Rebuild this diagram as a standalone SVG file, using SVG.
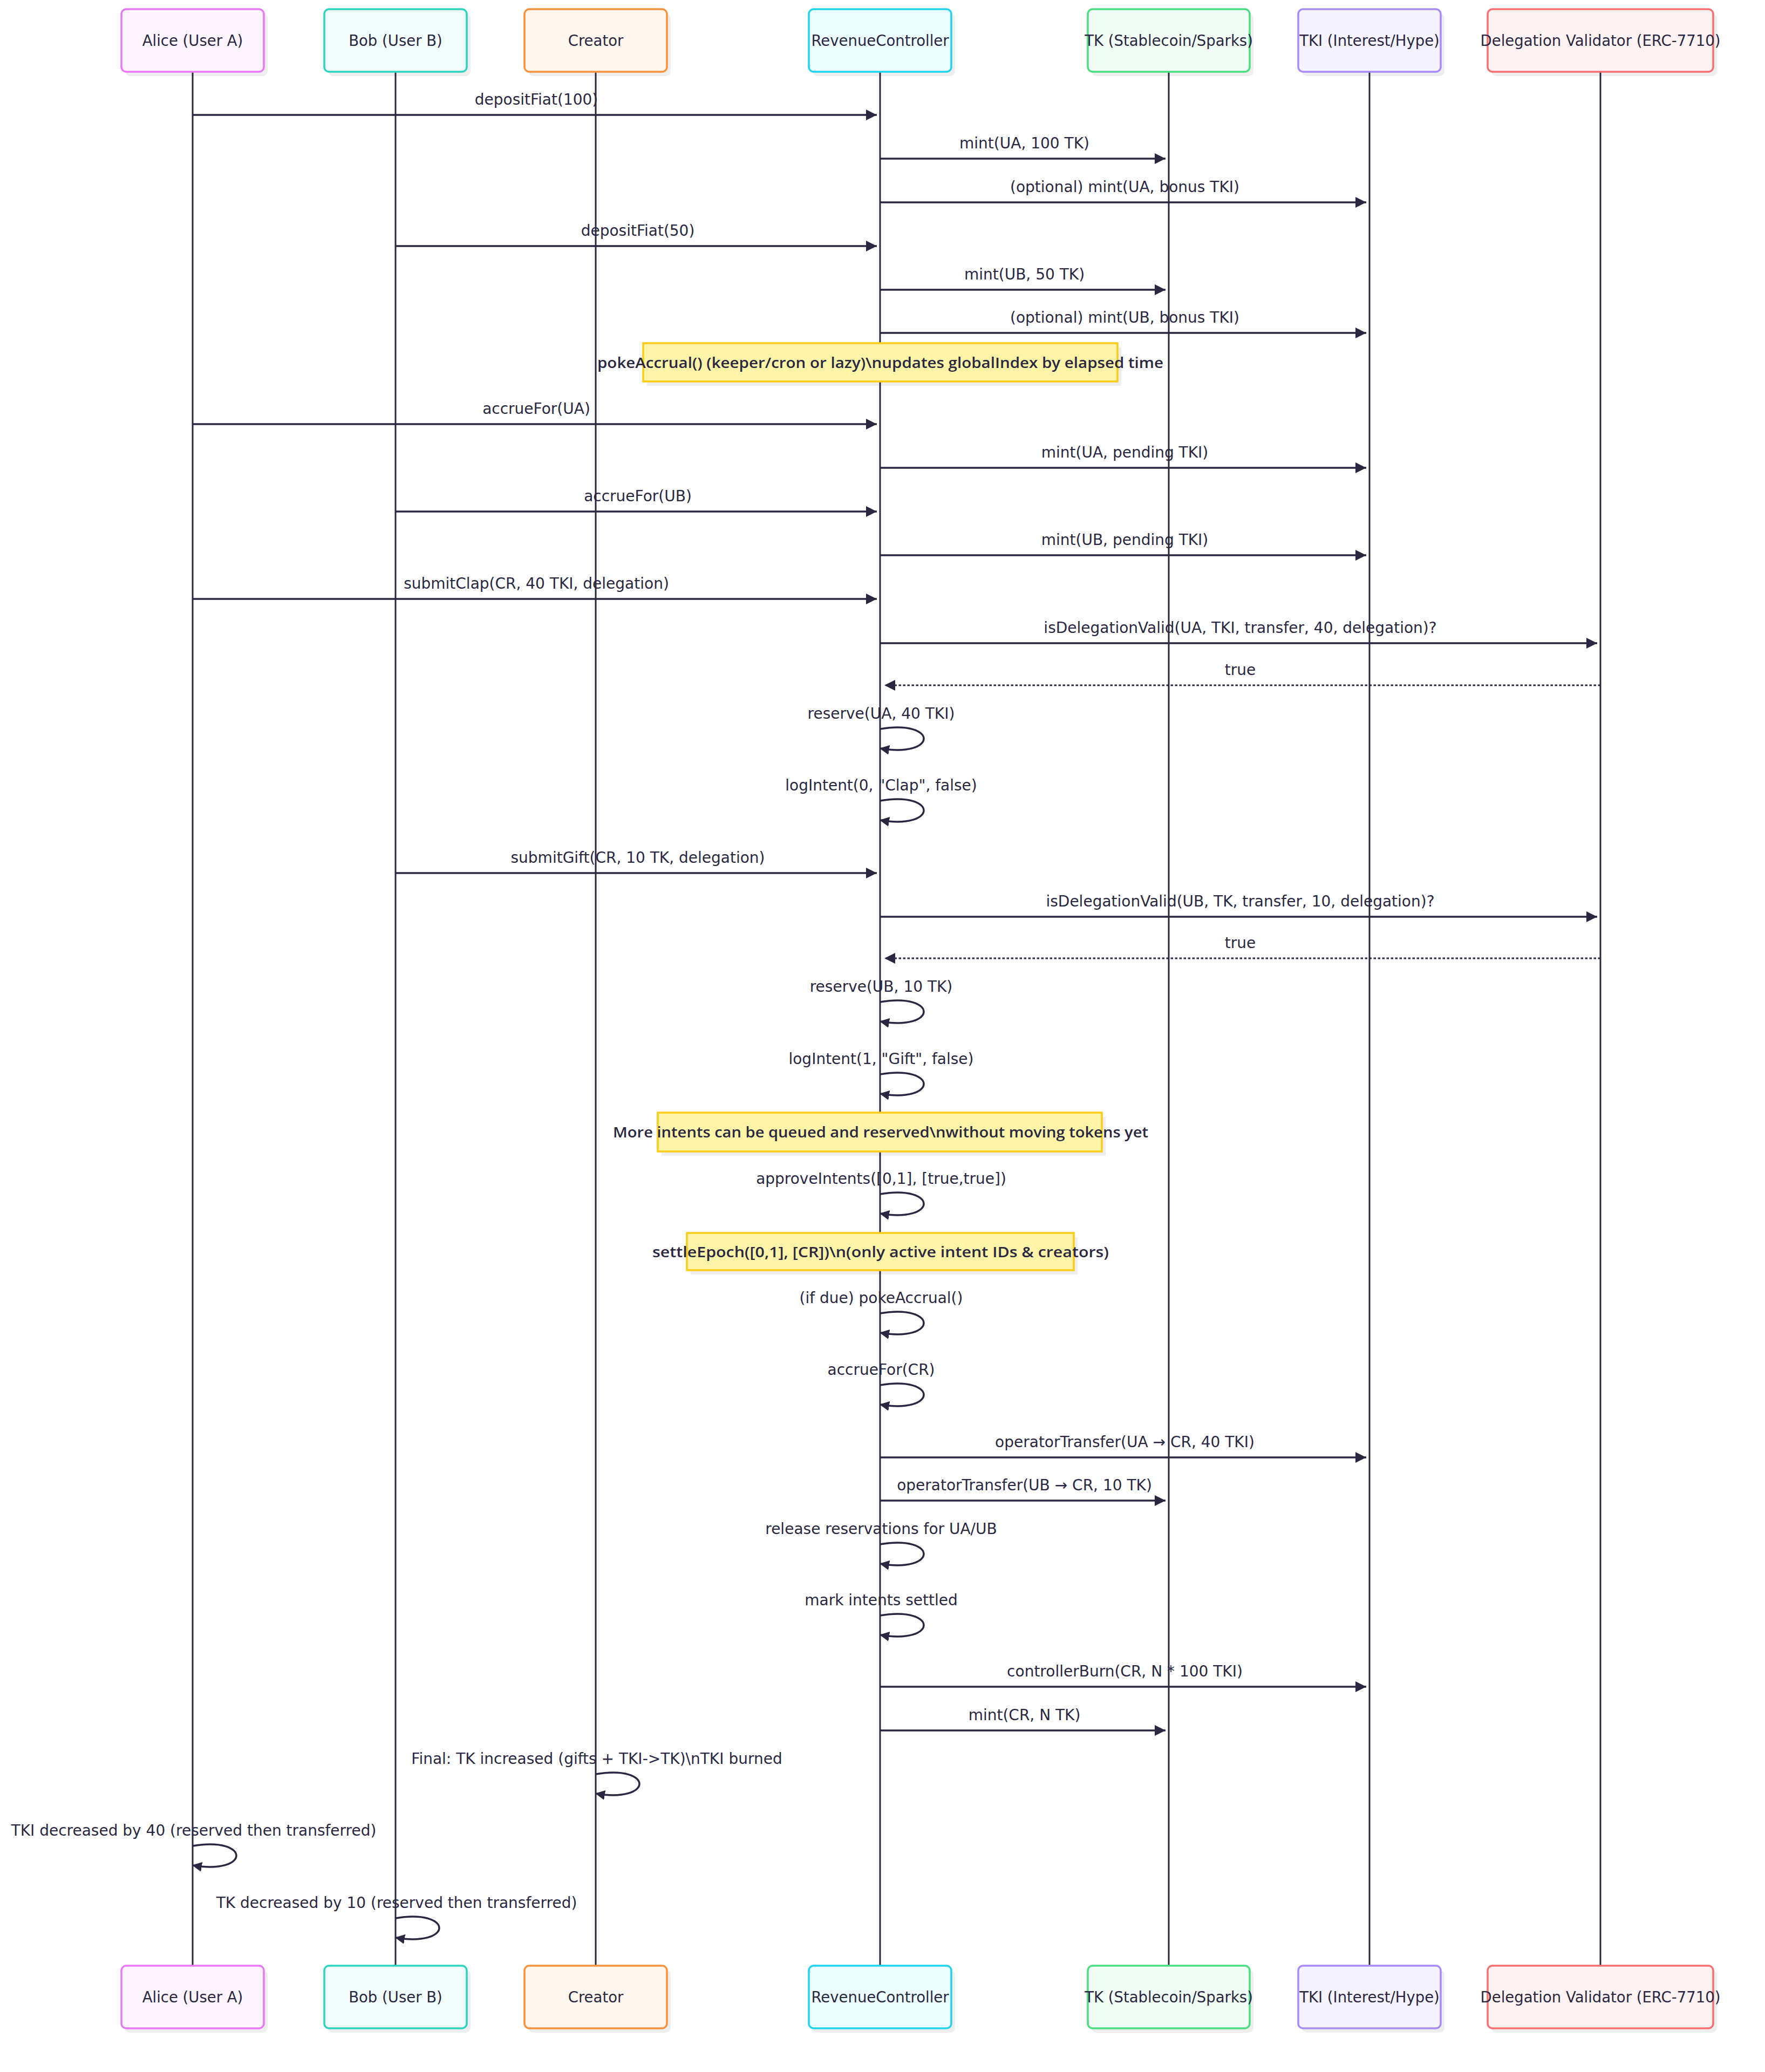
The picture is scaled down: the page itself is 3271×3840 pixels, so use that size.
<svg xmlns="http://www.w3.org/2000/svg" width="3271" height="3840" viewBox="0 0 3271 3840">
<style>
  .bg{fill:#ffffff}
  .shadow{fill:#000000;fill-opacity:0.065}
  .actor{stroke-width:3.5}
  .a-alice{fill:#fdf4ff;stroke:#e879f9}
  .a-bob{fill:#f0fdfa;stroke:#2dd4bf}
  .a-creator{fill:#fff7ed;stroke:#fb923c}
  .a-rc{fill:#ecfeff;stroke:#22d3ee}
  .a-tk{fill:#f0fdf4;stroke:#4ade80}
  .a-tki{fill:#f5f3ff;stroke:#a78bfa}
  .a-dv{fill:#fef2f2;stroke:#f87171}
  .atext{font-family:"DejaVu Sans","Liberation Sans",sans-serif;font-size:27.5px;fill:#2a2740;text-anchor:middle}
  .lifeline{stroke:#2a2740;stroke-width:3;fill:none}
  .msg{stroke:#2a2740;stroke-width:3.5;fill:none;marker-end:url(#arrow)}
  .dotted{stroke:#2a2740;stroke-width:3.2;fill:none;stroke-dasharray:4.5 3.5;marker-end:url(#arrow)}
  .self{stroke:#2a2740;stroke-width:3.5;fill:none;marker-end:url(#arrowS)}
  .mtext{font-family:"DejaVu Sans","Liberation Sans",sans-serif;font-size:28px;fill:#2a2740;text-anchor:middle}
  .note{fill:#fef4a8;stroke:#facc15;stroke-width:3.5}
  .ntext{font-family:"Open Sans","DejaVu Sans",sans-serif;font-weight:600;font-size:27px;fill:#2a2740;text-anchor:middle}
</style>
<defs>
  <marker id="arrow" markerUnits="userSpaceOnUse" markerWidth="20" markerHeight="20" viewBox="0 0 20 20" refX="20" refY="10" orient="auto">
    <path d="M0,0 L20,10 L0,20 z" fill="#2a2740"/>
  </marker>
  <marker id="arrowS" markerUnits="userSpaceOnUse" markerWidth="18" markerHeight="18" viewBox="0 0 18 18" refX="17" refY="9" orient="auto">
    <path d="M0,0 L18,9 L0,18 z" fill="#2a2740"/>
  </marker>
</defs>
<rect class="bg" x="0" y="0" width="3271" height="3840"/>

<g id="lifelines">
  <line class="lifeline" x1="357" y1="133" x2="357" y2="3643"/>
  <line class="lifeline" x1="733" y1="133" x2="733" y2="3643"/>
  <line class="lifeline" x1="1104" y1="133" x2="1104" y2="3643"/>
  <line class="lifeline" x1="1631" y1="133" x2="1631" y2="3643"/>
  <line class="lifeline" x1="2166" y1="133" x2="2166" y2="3643"/>
  <line class="lifeline" x1="2538" y1="133" x2="2538" y2="3643"/>
  <line class="lifeline" x1="2966" y1="133" x2="2966" y2="3643"/>
</g>

<g id="alice-top"><rect class="shadow" x="232" y="25" width="264" height="116" rx="9"/><rect class="actor a-alice" x="225" y="17" width="264" height="116" rx="9"/><text class="atext" x="357" y="85">Alice (User A)</text></g>
<g id="bob-top"><rect class="shadow" x="608" y="25" width="264" height="116" rx="9"/><rect class="actor a-bob" x="601" y="17" width="264" height="116" rx="9"/><text class="atext" x="733" y="85">Bob (User B)</text></g>
<g id="creator-top"><rect class="shadow" x="979" y="25" width="264" height="116" rx="9"/><rect class="actor a-creator" x="972" y="17" width="264" height="116" rx="9"/><text class="atext" x="1104" y="85">Creator</text></g>
<g id="rc-top"><rect class="shadow" x="1506" y="25" width="264" height="116" rx="9"/><rect class="actor a-rc" x="1499" y="17" width="264" height="116" rx="9"/><text class="atext" x="1631" y="85">RevenueController</text></g>
<g id="tk-top"><rect class="shadow" x="2023" y="25" width="300" height="116" rx="9"/><rect class="actor a-tk" x="2016" y="17" width="300" height="116" rx="9"/><text class="atext" x="2166" y="85">TK (Stablecoin/Sparks)</text></g>
<g id="tki-top"><rect class="shadow" x="2413" y="25" width="264" height="116" rx="9"/><rect class="actor a-tki" x="2406" y="17" width="264" height="116" rx="9"/><text class="atext" x="2538" y="85">TKI (Interest/Hype)</text></g>
<g id="dv-top"><rect class="shadow" x="2764" y="25" width="418" height="116" rx="9"/><rect class="actor a-dv" x="2757" y="17" width="418" height="116" rx="9"/><text class="atext" x="2966" y="85">Delegation Validator (ERC-7710)</text></g>

<g id="note-poke"><rect class="shadow" x="1199" y="644" width="879" height="71"/><rect class="note" x="1192" y="636" width="879" height="71"/><text class="ntext" x="1631.5" y="681.5" textLength="1049" lengthAdjust="spacingAndGlyphs">pokeAccrual() (keeper/cron or lazy)\nupdates globalIndex by elapsed time</text></g>
<g id="note-queue"><rect class="shadow" x="1226" y="2070" width="823" height="72"/><rect class="note" x="1219" y="2062" width="823" height="72"/><text class="ntext" x="1632" y="2108" textLength="992" lengthAdjust="spacingAndGlyphs">More intents can be queued and reserved\nwithout moving tokens yet</text></g>
<g id="note-settle"><rect class="shadow" x="1280" y="2293" width="717" height="69"/><rect class="note" x="1273" y="2285" width="717" height="69"/><text class="ntext" x="1632" y="2329.5" textLength="846" lengthAdjust="spacingAndGlyphs">settleEpoch([0,1], [CR])\n(only active intent IDs &amp; creators)</text></g>

<g id="connectors">
  <line class="msg" x1="357" y1="213" x2="1625" y2="213"/>
  <text class="mtext" x="994" y="194">depositFiat(100)</text>
  <line class="msg" x1="1631" y1="294" x2="2160" y2="294"/>
  <text class="mtext" x="1898.5" y="275">mint(UA, 100 TK)</text>
  <line class="msg" x1="1631" y1="375" x2="2532" y2="375"/>
  <text class="mtext" x="2084.5" y="356">(optional) mint(UA, bonus TKI)</text>
  <line class="msg" x1="733" y1="456" x2="1625" y2="456"/>
  <text class="mtext" x="1182" y="437">depositFiat(50)</text>
  <line class="msg" x1="1631" y1="537" x2="2160" y2="537"/>
  <text class="mtext" x="1898.5" y="518">mint(UB, 50 TK)</text>
  <line class="msg" x1="1631" y1="617" x2="2532" y2="617"/>
  <text class="mtext" x="2084.5" y="598">(optional) mint(UB, bonus TKI)</text>

  <line class="msg" x1="357" y1="786" x2="1625" y2="786"/>
  <text class="mtext" x="994" y="767">accrueFor(UA)</text>
  <line class="msg" x1="1631" y1="867" x2="2532" y2="867"/>
  <text class="mtext" x="2084.5" y="848">mint(UA, pending TKI)</text>
  <line class="msg" x1="733" y1="948" x2="1625" y2="948"/>
  <text class="mtext" x="1182" y="929">accrueFor(UB)</text>
  <line class="msg" x1="1631" y1="1029" x2="2532" y2="1029"/>
  <text class="mtext" x="2084.5" y="1010">mint(UB, pending TKI)</text>
  <line class="msg" x1="357" y1="1110" x2="1625" y2="1110"/>
  <text class="mtext" x="994" y="1091">submitClap(CR, 40 TKI, delegation)</text>
  <line class="msg" x1="1631" y1="1192" x2="2960" y2="1192"/>
  <text class="mtext" x="2298.5" y="1173">isDelegationValid(UA, TKI, transfer, 40, delegation)?</text>
  <line class="dotted" x1="2966" y1="1270" x2="1639" y2="1270"/>
  <text class="mtext" x="2298.5" y="1251">true</text>

  <path class="self" d="M1631,1351 C1739,1333 1739,1405 1631,1387"/>
  <text class="mtext" x="1633" y="1332">reserve(UA, 40 TKI)</text>
  <path class="self" d="M1631,1484 C1739,1466 1739,1538 1631,1520"/>
  <text class="mtext" x="1633" y="1465">logIntent(0, "Clap", false)</text>

  <line class="msg" x1="733" y1="1618" x2="1625" y2="1618"/>
  <text class="mtext" x="1182" y="1599">submitGift(CR, 10 TK, delegation)</text>
  <line class="msg" x1="1631" y1="1699" x2="2960" y2="1699"/>
  <text class="mtext" x="2298.5" y="1680">isDelegationValid(UB, TK, transfer, 10, delegation)?</text>
  <line class="dotted" x1="2966" y1="1776" x2="1639" y2="1776"/>
  <text class="mtext" x="2298.5" y="1757">true</text>

  <path class="self" d="M1631,1857 C1739,1839 1739,1911 1631,1893"/>
  <text class="mtext" x="1633" y="1838">reserve(UB, 10 TK)</text>
  <path class="self" d="M1631,1991 C1739,1973 1739,2045 1631,2027"/>
  <text class="mtext" x="1633" y="1972">logIntent(1, "Gift", false)</text>

  <path class="self" d="M1631,2213 C1739,2195 1739,2267 1631,2249"/>
  <text class="mtext" x="1633" y="2194">approveIntents([0,1], [true,true])</text>

  <path class="self" d="M1631,2434 C1739,2416 1739,2488 1631,2470"/>
  <text class="mtext" x="1633" y="2415">(if due) pokeAccrual()</text>
  <path class="self" d="M1631,2567 C1739,2549 1739,2621 1631,2603"/>
  <text class="mtext" x="1633" y="2548">accrueFor(CR)</text>

  <line class="msg" x1="1631" y1="2701" x2="2532" y2="2701"/>
  <text class="mtext" x="2084.5" y="2682">operatorTransfer(UA → CR, 40 TKI)</text>
  <line class="msg" x1="1631" y1="2781" x2="2160" y2="2781"/>
  <text class="mtext" x="1898.5" y="2762">operatorTransfer(UB → CR, 10 TK)</text>

  <path class="self" d="M1631,2862 C1739,2844 1739,2916 1631,2898"/>
  <text class="mtext" x="1633" y="2843">release reservations for UA/UB</text>
  <path class="self" d="M1631,2994 C1739,2976 1739,3048 1631,3030"/>
  <text class="mtext" x="1633" y="2975">mark intents settled</text>

  <line class="msg" x1="1631" y1="3126" x2="2532" y2="3126"/>
  <text class="mtext" x="2084.5" y="3107">controllerBurn(CR, N * 100 TKI)</text>
  <line class="msg" x1="1631" y1="3207" x2="2160" y2="3207"/>
  <text class="mtext" x="1898.5" y="3188">mint(CR, N TK)</text>

  <path class="self" d="M1104,3288 C1212,3270 1212,3342 1104,3324"/>
  <text class="mtext" x="1106" y="3269">Final: TK increased (gifts + TKI-&gt;TK)\nTKI burned</text>
  <path class="self" d="M357,3421 C465,3403 465,3475 357,3457"/>
  <text class="mtext" x="359" y="3402">TKI decreased by 40 (reserved then transferred)</text>
  <path class="self" d="M733,3555 C841,3537 841,3609 733,3591"/>
  <text class="mtext" x="735" y="3536">TK decreased by 10 (reserved then transferred)</text>
</g>

<g id="alice-bottom"><rect class="shadow" x="232" y="3651" width="264" height="116" rx="9"/><rect class="actor a-alice" x="225" y="3643" width="264" height="116" rx="9"/><text class="atext" x="357" y="3711">Alice (User A)</text></g>
<g id="bob-bottom"><rect class="shadow" x="608" y="3651" width="264" height="116" rx="9"/><rect class="actor a-bob" x="601" y="3643" width="264" height="116" rx="9"/><text class="atext" x="733" y="3711">Bob (User B)</text></g>
<g id="creator-bottom"><rect class="shadow" x="979" y="3651" width="264" height="116" rx="9"/><rect class="actor a-creator" x="972" y="3643" width="264" height="116" rx="9"/><text class="atext" x="1104" y="3711">Creator</text></g>
<g id="rc-bottom"><rect class="shadow" x="1506" y="3651" width="264" height="116" rx="9"/><rect class="actor a-rc" x="1499" y="3643" width="264" height="116" rx="9"/><text class="atext" x="1631" y="3711">RevenueController</text></g>
<g id="tk-bottom"><rect class="shadow" x="2023" y="3651" width="300" height="116" rx="9"/><rect class="actor a-tk" x="2016" y="3643" width="300" height="116" rx="9"/><text class="atext" x="2166" y="3711">TK (Stablecoin/Sparks)</text></g>
<g id="tki-bottom"><rect class="shadow" x="2413" y="3651" width="264" height="116" rx="9"/><rect class="actor a-tki" x="2406" y="3643" width="264" height="116" rx="9"/><text class="atext" x="2538" y="3711">TKI (Interest/Hype)</text></g>
<g id="dv-bottom"><rect class="shadow" x="2764" y="3651" width="418" height="116" rx="9"/><rect class="actor a-dv" x="2757" y="3643" width="418" height="116" rx="9"/><text class="atext" x="2966" y="3711">Delegation Validator (ERC-7710)</text></g>
</svg>
